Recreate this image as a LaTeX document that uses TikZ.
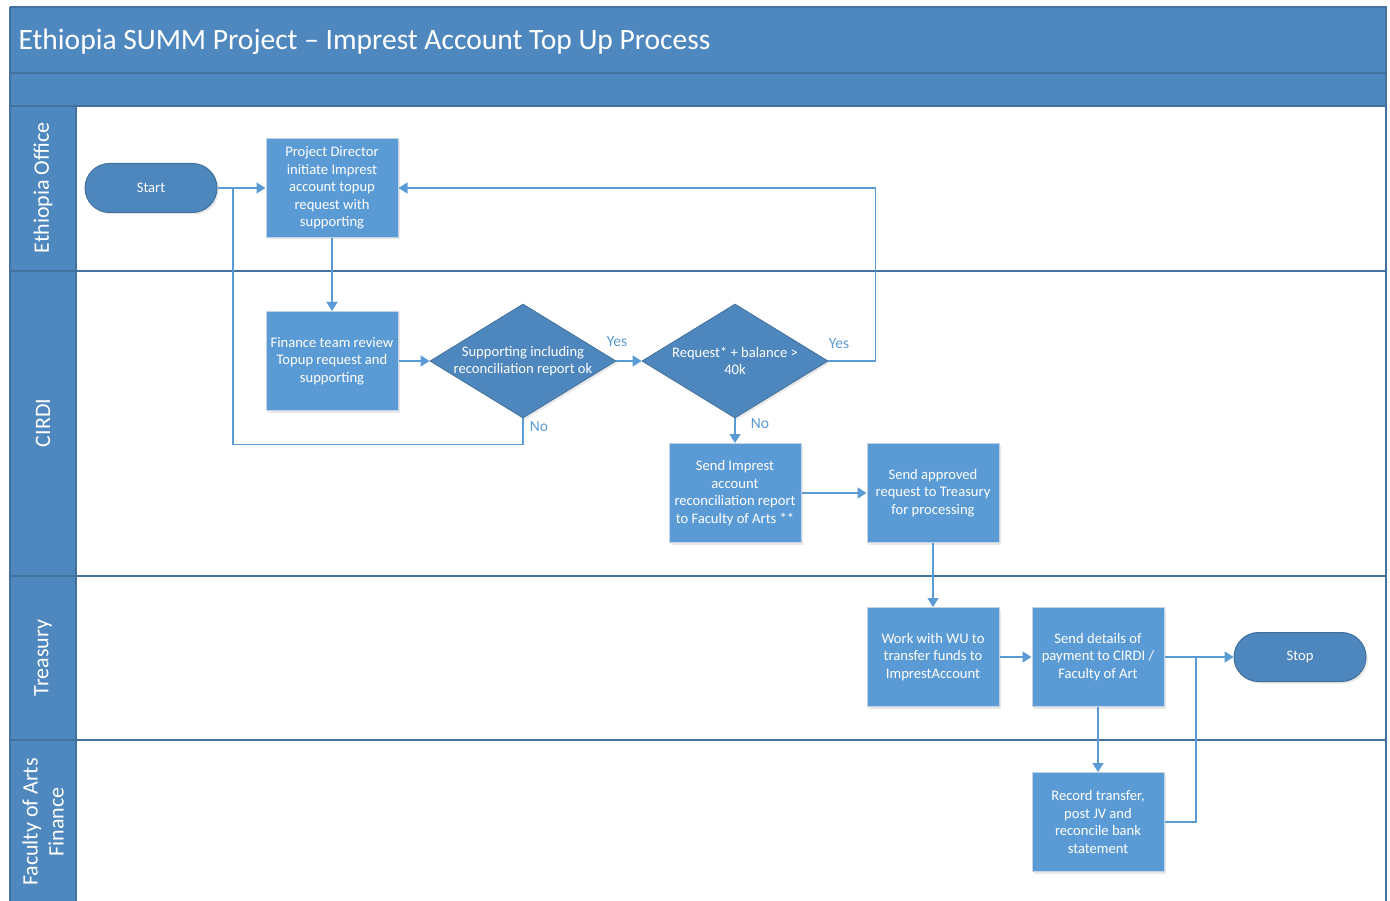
\documentclass[tikz,border=0pt]{standalone}
\usepackage{fontspec}
\setmainfont{Carlito}
\usetikzlibrary{shapes.geometric,arrows.meta,shadows}
\definecolor{hdr}{HTML}{4F88BE}
\definecolor{bord}{HTML}{41719C}
\definecolor{boxf}{HTML}{5B9BD5}
\definecolor{boxb}{HTML}{C3D3E4}
\definecolor{diaf}{HTML}{4E86BE}
\definecolor{conn}{HTML}{5B9BD5}
\tikzset{
  shad/.style={drop shadow={opacity=0.18,shadow xshift=2pt,shadow yshift=-2pt}},
  proc/.style={draw=boxb, line width=1pt, fill=boxf, text=white, minimum width=132pt, minimum height=99pt,
    align=center, inner sep=2pt, font=\fontsize{14.6}{17.5}\selectfont, shad},
  term/.style={draw=bord, line width=1pt, fill=diaf, text=white, minimum width=132pt, minimum height=49pt,
    rounded corners=24.5pt, font=\fontsize{14.6}{17}\selectfont, shad},
  dec/.style={diamond, draw=bord, line width=0.8pt, fill=diaf, minimum width=186pt, minimum height=114pt, inner sep=0pt, shad},
  dectext/.style={text=white, align=center, font=\fontsize{14.6}{17.5}\selectfont},
  lane/.style={text=white, rotate=90, align=center, font=\fontsize{22}{26}\selectfont},
  flow/.style={draw=conn, line width=1.5pt, -{Triangle[length=9pt,width=11pt]}},
  flowplain/.style={draw=conn, line width=1.5pt},
  lbl/.style={text=conn, font=\fontsize{15.5}{18}\selectfont},
  sep/.style={draw=bord, line width=1.5pt}
}
\begin{document}
\begin{tikzpicture}[x=1pt,y=-1pt]
\useasboundingbox (0,0) rectangle (1390,901);
% frame
\fill[hdr] (10,7) rectangle (1386,106);
\fill[hdr] (10,106) rectangle (76,901);
\draw[sep] (10,73) -- (1386,73);
\draw[sep] (10,106) -- (1386,106);
\draw[sep] (10,271) -- (1386,271);
\draw[sep] (10,576) -- (1386,576);
\draw[sep] (10,740) -- (1386,740);
\draw[sep] (76,106) -- (76,901);
\draw[sep] (10,7) -- (1386,7) -- (1386,901);
\draw[sep] (10,7) -- (10,901);
% title and lanes
\node[anchor=west, text=white, font=\fontsize{29.5}{33}\selectfont] (title) at (15,42) {Ethiopia SUMM Project – Imprest Account Top Up Process};
\node[lane] (l1) at (43,188) {Ethiopia Office};
\node[lane] (l2) at (43,423) {CIRDI};
\node[lane] (l3) at (43,658) {Treasury};
\node[lane] (l4) at (43,822) {Faculty of Arts\\Finance};
% nodes
\node[term] (start) at (151,188) {Start};
\node[proc] (pd) at (332,188) {Project Director\\initiate Imprest\\account topup\\request with\\supporting};
\node[proc] (fin) at (332,361) {Finance team review\\Topup request and\\supporting};
\node[dec, label={[dectext]center:Supporting including\\reconciliation report ok}] (d1) at (523,361) {};
\node[dec, label={[dectext]center:Request* + balance >\\40k}] (d2) at (735,361) {};
\node[proc] (sia) at (735,493) {Send Imprest\\account\\reconciliation report\\to Faculty of Arts **};
\node[proc] (sap) at (933,493) {Send approved\\request to Treasury\\for processing};
\node[proc] (wu) at (933,657) {Work with WU to\\transfer funds to\\ImprestAccount};
\node[proc] (sd) at (1098,657) {Send details of\\payment to CIRDI /\\Faculty of Art};
\node[term] (stop) at (1300,657) {Stop};
\node[proc] (rec) at (1098,822) {Record transfer,\\post JV and\\reconcile bank\\statement};
% connectors
\coordinate (j1) at (233,188);
\coordinate (j2) at (1196,657);
\draw[flowplain] (d1.south) -- ++(0,26) -| (j1);
\draw[flow] (start) -- (pd);
\draw[flow] (pd) -- (fin);
\draw[flow] (fin) -- (d1);
\draw[flow] (d1) -- (d2);
\draw[flow] (d2.east) -- ++(47,0) |- (pd.east);
\draw[flow] (d2.south) -- (sia.north);
\draw[flow] (sia) -- (sap);
\draw[flow] (sap) -- (wu);
\draw[flow] (wu) -- (sd);
\draw[flowplain] (rec.east) -| (j2);
\draw[flow] (sd) -- (stop);
\draw[flow] (sd) -- (rec);
% labels
\node[lbl] (y1) at (617,342) {Yes};
\node[lbl] (y2) at (839,344) {Yes};
\node[lbl] (n1) at (539,427) {No};
\node[lbl] (n2) at (760,424) {No};
\end{tikzpicture}
\end{document}
